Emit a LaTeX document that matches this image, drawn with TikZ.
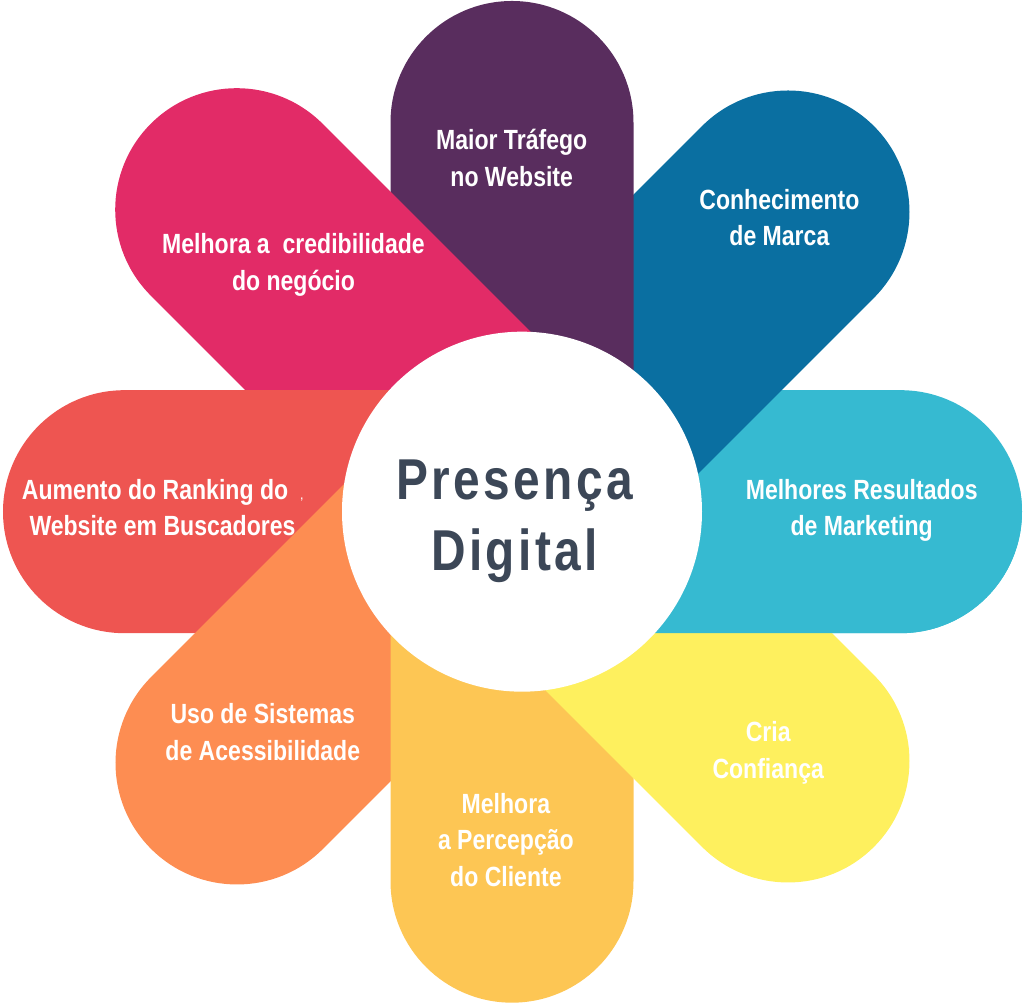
\documentclass[tikz,border=0pt]{standalone}
\usepackage{fontspec}
\newfontfamily\petalfont{Liberation Sans}[FakeStretch=0.83]
\newfontfamily\hubfont{Liberation Sans}[FakeStretch=0.83,LetterSpace=6]

\definecolor{traffic}{RGB}{89,45,94}
\definecolor{brand}{RGB}{10,111,161}
\definecolor{marketing}{RGB}{54,186,209}
\definecolor{trust}{RGB}{254,240,94}
\definecolor{perception}{RGB}{253,198,84}
\definecolor{access}{RGB}{253,141,82}
\definecolor{ranking}{RGB}{238,85,81}
\definecolor{credibility}{RGB}{226,43,103}
\definecolor{hubgrey}{RGB}{60,71,87}

\tikzset{
    petal/.pic={\fill[pic actions] (0,-1.215) arc (-90:90:1.215) -- (-3.8,1.215) -- (-3.8,-1.215) -- cycle;},
    petaltext/.style={text=white, align=center, inner sep=0pt,
        font=\petalfont\bfseries\fontsize{7.9}{10.4}\selectfont},
    hubtext/.style={text=hubgrey, align=center, inner sep=0pt,
        font=\hubfont\bfseries\fontsize{16.4}{20.2}\selectfont},
}

\begin{document}
\begin{tikzpicture}
    \useasboundingbox (0,0) rectangle (10.24,-10.03);

    % Petals, each one over its clockwise neighbour
    \pic[fill=marketing] at (9.005,-5.117) {petal};
    \pic[fill=brand, rotate=45] at (7.88,-2.12) {petal};
    \pic[fill=traffic, rotate=90] at (5.12,-1.225) {petal};
    \pic[fill=credibility, rotate=135] at (2.367,-2.097) {petal};
    \pic[fill=ranking, rotate=180] at (1.245,-5.117) {petal};
    \pic[fill=access, rotate=225] at (2.37,-7.63) {petal};
    \pic[fill=perception, rotate=270] at (5.12,-8.812) {petal};
    \pic[fill=trust, rotate=315] at (7.88,-7.61) {petal};

    % Cyan petal again, over the yellow one
    \begin{scope}
        \clip (5.22,-4.9) rectangle (10.24,-10.03);
        \pic[fill=marketing] at (9.005,-5.117) {petal};
    \end{scope}

    % Centre
    \node[circle, fill=white, minimum size=3.6cm, inner sep=0pt] (hub) at (5.22,-5.117) {};
    \node[hubtext] (title) at (5.145,-5.212) {Presença\\Digital};

    % Petal labels
    \node[petaltext] (trafficlabel) at (5.117,-1.58) {Maior Tráfego\\no Website};
    \node[petaltext] (brandlabel) at (7.794,-2.177) {Conhecimento\\de Marca};
    \node[petaltext] (marketinglabel) at (8.617,-5.106) {Melhores Resultados\\de Marketing};
    \node[petaltext] (trustlabel) at (7.682,-7.529) {Cria\\Confiança};
    \node[petaltext] (perceptionlabel) at (5.059,-8.398) {Melhora\\a Percepção\\do Cliente};
    \node[petaltext] (accesslabel) at (2.628,-7.323) {Uso de Sistemas\\de Acessibilidade};
    \node[petaltext] (rankinglabel) at (1.625,-5.078) {Aumento do Ranking do\hspace{0.45em}{\fontsize{3}{3}\selectfont,}\\Website em Buscadores};
    \node[petaltext] (credibilitylabel) at (2.935,-2.65) {Melhora a\ \ credibilidade\\do negócio};
\end{tikzpicture}
\end{document}
